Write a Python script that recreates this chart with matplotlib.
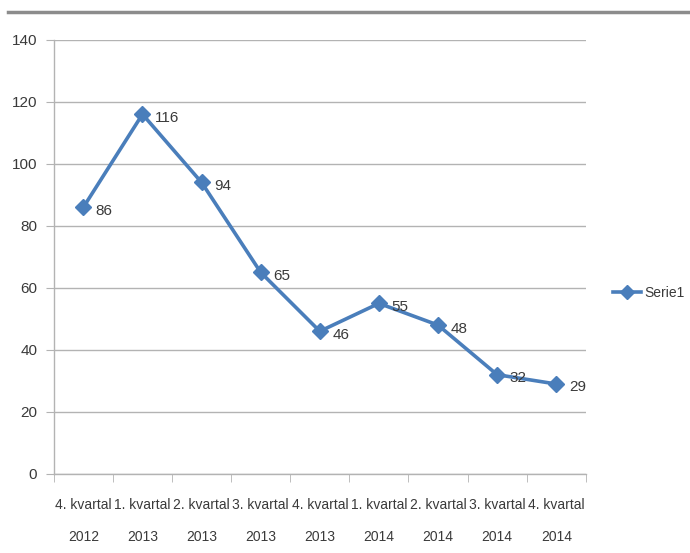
import matplotlib
matplotlib.use("Agg")
import matplotlib.pyplot as plt
from matplotlib.lines import Line2D
from matplotlib.ticker import FixedLocator, NullFormatter

plt.rcParams['font.family'] = ['Liberation Sans', 'DejaVu Sans']

categories = ["4. kvartal\n2012", "1. kvartal\n2013", "2. kvartal\n2013",
              "3. kvartal\n2013", "4. kvartal\n2013", "1. kvartal\n2014",
              "2. kvartal\n2014", "3. kvartal\n2014", "4. kvartal\n2014"]
values = [86, 116, 94, 65, 46, 55, 48, 32, 29]
yticks = [0, 20, 40, 60, 80, 100, 120, 140]

blue = '#4a7ebb'
grid_c = '#b3b3b3'
text_c = '#3a3a3a'

fig = plt.figure(figsize=(6.9, 5.53), dpi=100)
ax = fig.add_axes([0.078, 0.143, 0.771, 0.785])

x = list(range(len(values)))
ax.plot(x, values, color=blue, linewidth=2.6, marker='D', markersize=8,
        markeredgecolor=blue, markerfacecolor=blue, label='Serie1', zorder=3)

# data labels to the right of each point
for xi, v in zip(x, values):
    ax.annotate(str(v), (xi, v), xytext=(9, -2.5), textcoords='offset points',
                fontsize=11, color=text_c, va='center', ha='left')

ax.set_xlim(-0.5, len(values) - 0.5)
ax.set_ylim(0, 140)
ax.set_yticks(yticks)
ax.yaxis.grid(True, color=grid_c, linewidth=1)
ax.set_axisbelow(True)

ax.set_xticks(x)
ax.set_xticklabels(categories, linespacing=2.7)
ax.xaxis.set_minor_locator(FixedLocator([i - 0.5 for i in range(len(values) + 1)]))
ax.xaxis.set_minor_formatter(NullFormatter())
ax.tick_params(axis='x', which='major', length=0, pad=17, labelsize=10, colors=text_c)
ax.tick_params(axis='x', which='minor', length=6, color=grid_c)
ax.tick_params(axis='y', length=6, color=grid_c, pad=6, labelsize=11, colors=text_c)

for s in ['top', 'right']:
    ax.spines[s].set_visible(False)
for s in ['left', 'bottom']:
    ax.spines[s].set_color(grid_c)
    ax.spines[s].set_linewidth(1)

leg = fig.legend(handles=[Line2D([0], [0], color=blue, linewidth=2.6, marker='D',
                                 markersize=7, markeredgecolor=blue)],
                 labels=['Serie1'], loc='center left', bbox_to_anchor=(0.87, 0.47),
                 frameon=False, fontsize=10, handlelength=2.0, handletextpad=0.3)
for t in leg.get_texts():
    t.set_color(text_c)

# top border of the chart frame
fig.add_artist(Line2D([0.012, 1.0], [0.979, 0.979], color='#8c8c8c', linewidth=2.5))

fig.savefig('out.png', dpi=100, facecolor='white')
